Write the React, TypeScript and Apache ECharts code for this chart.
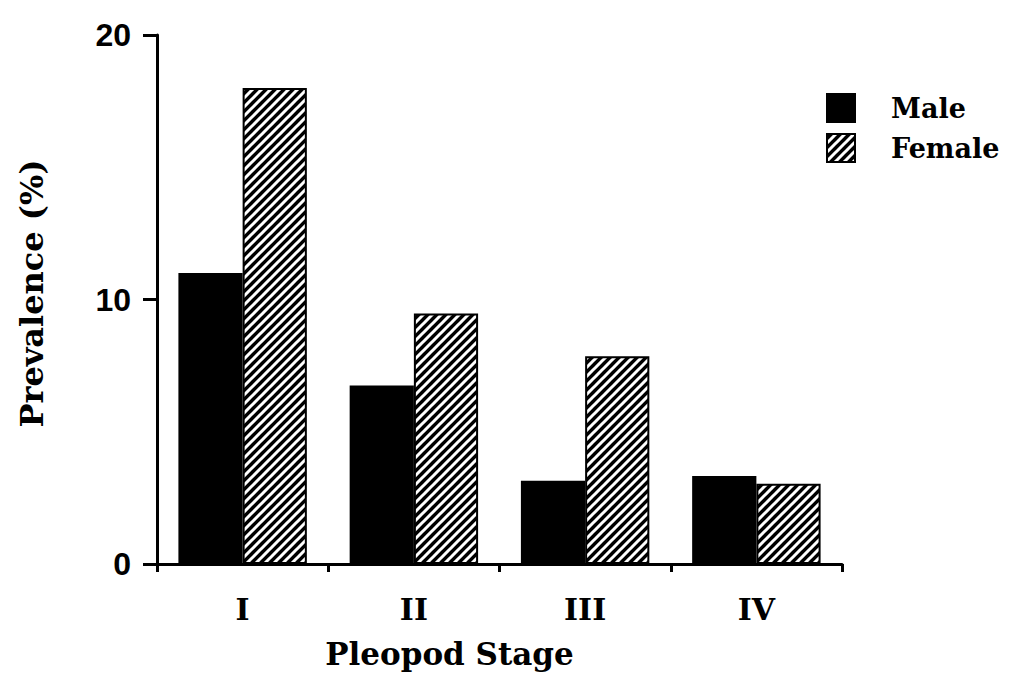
import React, { useEffect, useRef } from "react";
import * as echarts from "echarts";

const categories = ["I", "II", "III", "IV"];
const maleValues = [11.0, 6.75, 3.15, 3.33];
const femaleValues = [18.0, 9.47, 7.85, 3.03];
const yTicks = [0, 10, 20];

function makeHatch(): HTMLCanvasElement {
  const s = 9;
  const c = document.createElement("canvas");
  c.width = s;
  c.height = s;
  const ctx = c.getContext("2d")!;
  ctx.fillStyle = "#000";
  ctx.fillRect(0, 0, s, s);
  ctx.strokeStyle = "#fff";
  ctx.lineWidth = 3;
  ctx.beginPath();
  ctx.moveTo(-1, s + 1);
  ctx.lineTo(s + 1, -1);
  ctx.moveTo(-3, 3);
  ctx.lineTo(3, -3);
  ctx.moveTo(s - 3, s + 3);
  ctx.lineTo(s + 3, s - 3);
  ctx.stroke();
  return c;
}

export default function App() {
  const ref = useRef<HTMLDivElement>(null);
  useEffect(() => {
    if (!ref.current) return;
    const chart = echarts.init(ref.current, undefined, { renderer: "svg" });
    const hatch = { image: makeHatch(), repeat: "repeat" } as any;
    const serif = "DejaVu Serif";
    chart.setOption({
      animation: false,
      backgroundColor: "#fff",
      grid: { left: 157, right: 170, top: 35, bottom: 119 },
      legend: {
        orient: "vertical",
        left: 826,
        top: 93,
        padding: 0,
        itemWidth: 28,
        itemHeight: 28,
        itemGap: 10,
        icon: "rect",
        data: ["Male", "Female"],
        textStyle: {
          fontFamily: serif,
          fontWeight: "bold",
          fontSize: 27,
          lineHeight: 28,
          color: "#000",
          padding: [0, 0, 0, 31],
        },
      },
      xAxis: {
        type: "category",
        data: categories,
        name: "Pleopod Stage",
        nameLocation: "middle",
        nameGap: 74,
        nameTextStyle: {
          fontFamily: serif,
          fontWeight: "bold",
          fontSize: 31,
          color: "#000",
          padding: [0, 100, 0, 0],
        },
        axisLine: { lineStyle: { color: "#000", width: 3 } },
        axisTick: { show: true, length: 8, lineStyle: { color: "#000", width: 3 } },
        axisLabel: { fontFamily: serif, fontWeight: "bold", fontSize: 30, color: "#000", margin: 30 },
        splitLine: { show: false },
      },
      yAxis: {
        type: "value",
        min: yTicks[0],
        max: yTicks[yTicks.length - 1],
        interval: 10,
        name: "Prevalence (%)",
        nameLocation: "middle",
        nameRotate: 90,
        nameGap: 109,
        nameTextStyle: {
          fontFamily: serif,
          fontWeight: "bold",
          fontSize: 32,
          color: "#000",
          padding: [0, 0, 0, 12],
        },
        axisLine: { show: true, lineStyle: { color: "#000", width: 3 } },
        axisTick: { show: true, length: 14, lineStyle: { color: "#000", width: 3 } },
        axisLabel: {
          fontFamily: "Liberation Sans",
          fontWeight: "bold",
          fontSize: 32,
          color: "#000",
          margin: 26,
        },
        splitLine: { show: false },
      },
      series: [
        {
          name: "Male",
          type: "bar",
          data: maleValues,
          barGap: "0%",
          barCategoryGap: "25%",
          itemStyle: { color: "#000", borderColor: "#000", borderWidth: 2 },
        },
        {
          name: "Female",
          type: "bar",
          data: femaleValues,
          barGap: "0%",
          barCategoryGap: "25%",
          itemStyle: { color: hatch, borderColor: "#000", borderWidth: 2 },
        },
      ],
    });
    return () => chart.dispose();
  }, []);
  return (
    <div
      ref={ref}
      style={{ position: "fixed", left: 0, top: 0, width: 1012, height: 683 }}
    />
  );
}
